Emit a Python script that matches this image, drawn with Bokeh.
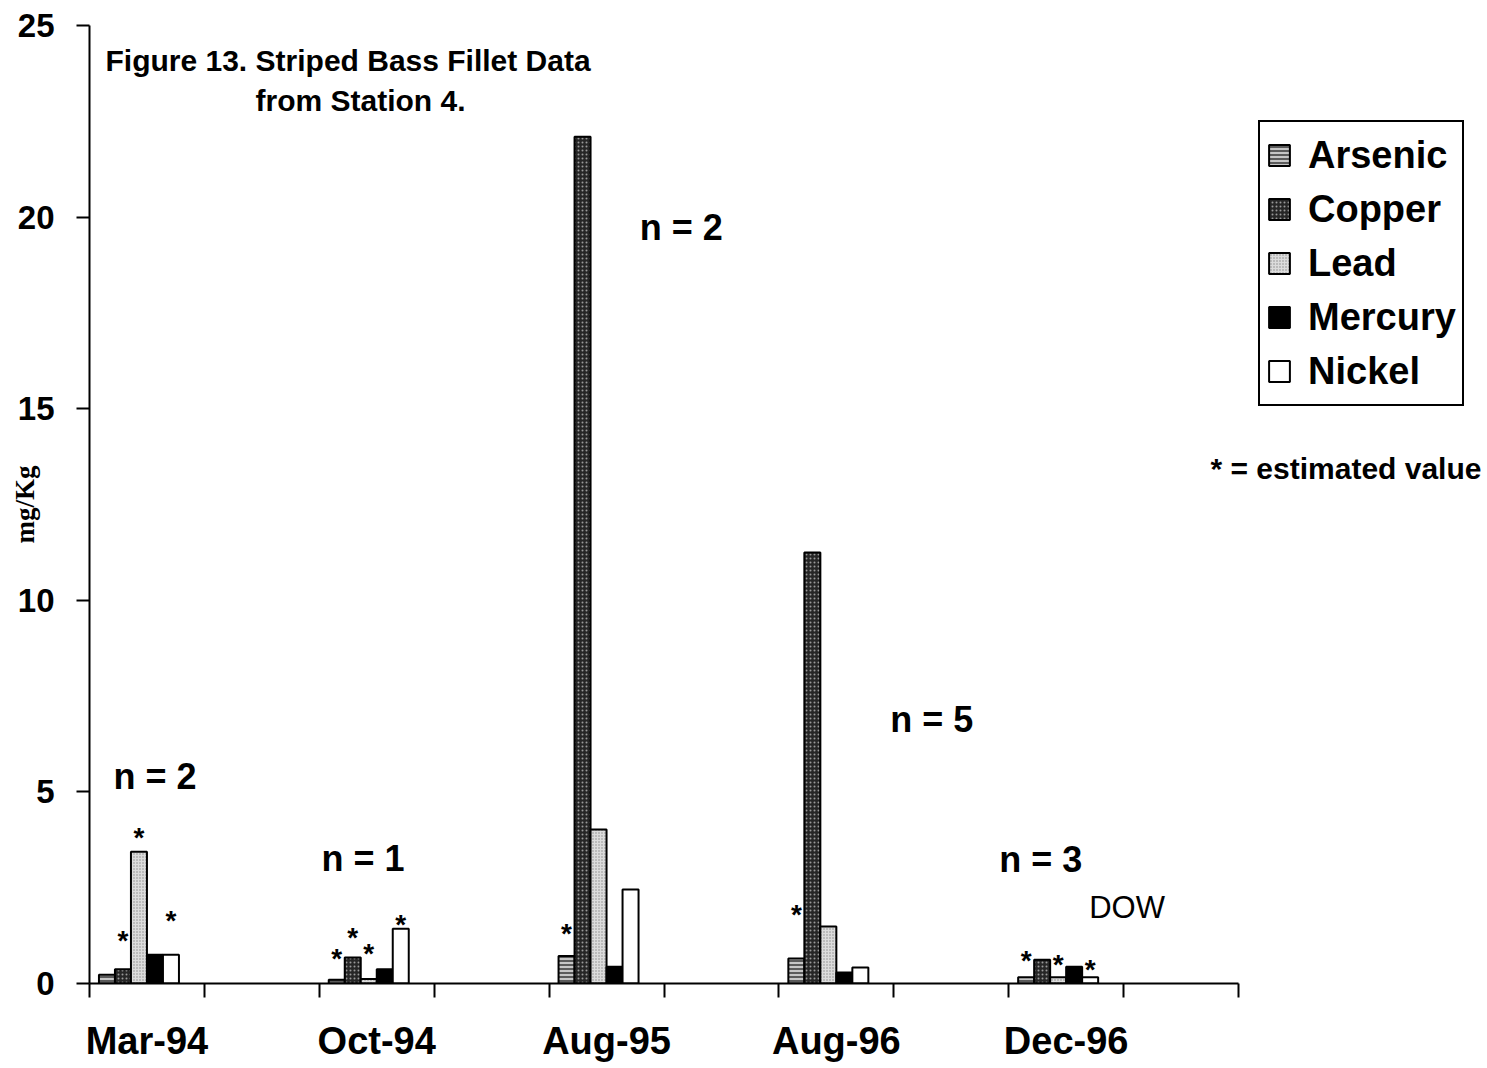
from bokeh.plotting import figure
from bokeh.models import (ColumnDataSource, Range1d, FixedTicker, Legend, LegendItem, Label)
from bokeh.core.properties import value
from bokeh.transform import dodge
from bokeh.embed import file_html
from bokeh.resources import INLINE

# ---------------- data ----------------
dates = ["Mar-94", "Oct-94", "Aug-95", "Aug-96", "Dec-96"]
arsenic = [0.23, 0.10, 0.72, 0.65, 0.16]
copper = [0.37, 0.68, 22.1, 11.25, 0.62]
lead = [3.44, 0.12, 4.02, 1.49, 0.16]
mercury = [0.75, 0.37, 0.44, 0.29, 0.44]
nickel = [0.75, 1.43, 2.45, 0.42, 0.16]
sample_n = [2, 1, 2, 5, 3]
series_names = ["Arsenic", "Copper", "Lead", "Mercury", "Nickel"]
y_ticks = [0, 5, 10, 15, 20, 25]

# estimated values (*): date index, series index, height of the star
est_date = [0, 0, 0, 1, 1, 1, 1, 2, 3, 4, 4, 4]
est_series = [1, 2, 4, 0, 1, 2, 4, 0, 0, 0, 2, 4]
est_y = [1.3, 4.0, 1.83, 0.84, 1.38, 0.97, 1.72, 1.49, 1.98, 0.78, 0.68, 0.55]

# annotation positions for the "n = " labels
n_x = [0.07, 1.88, 4.65, 6.83, 7.78]
n_y = [5.40, 3.26, 19.73, 6.89, 3.24]

# ---------------- styling ----------------
SANS = "Liberation Sans"
fills = ["#5a5a5a", "#262626", "#dcdcdc", "#000000", "#ffffff"]
hatches = ["horizontal_line", "dot", "dot", " ", " "]
hatch_cols = ["#ffffff", "#9a9a9a", "#8a8a8a", "#000000", "#000000"]
hatch_scales = [4, 4, 3, 4, 4]
hatch_weights = [1.3, 1.2, 1.0, 1, 1]

values = [arsenic, copper, lead, mercury, nickel]
n_slots = 10                                 # category slots along the axis
cat_x = [2 * i for i in range(len(dates))]   # every other slot holds data
cat_px = 114.9                               # pixel width of one slot
slot = 16 / cat_px                           # bar width in slot units
frame_w = 1487 - 89

p = figure(width=1487, height=1068, output_backend="svg", toolbar_location=None,
           x_range=Range1d(-0.5, -0.5 + frame_w / cat_px), y_range=Range1d(0, 25),
           min_border_left=89, min_border_right=0, min_border_top=25, min_border_bottom=85)
p.outline_line_color = None
p.grid.grid_line_color = None
p.background_fill_color = "white"

renderers = []
for s, (name, vals) in enumerate(zip(series_names, values)):
    src = ColumnDataSource(dict(x=cat_x, top=vals))
    r = p.vbar(x=dodge("x", (s - 2.5) * slot, range=p.x_range), top="top", bottom=0,
               width=slot, source=src, fill_color=fills[s], line_color="black", line_width=2,
               hatch_pattern=hatches[s], hatch_color=hatch_cols[s], hatch_scale=hatch_scales[s],
               hatch_weight=hatch_weights[s])
    renderers.append(r)

# stars for estimated values
star_src = ColumnDataSource(dict(
    x=[cat_x[d] + (s - 2.5) * slot for d, s in zip(est_date, est_series)],
    y=est_y, t=["*"] * len(est_y)))
p.text(x="x", y="y", text="t", source=star_src, text_align="center", text_baseline="middle",
       y_offset=7, text_font=value(SANS), text_font_style="bold", text_font_size="28px",
       text_color="black")

# n labels
n_src = ColumnDataSource(dict(x=n_x, y=n_y, t=[f"n = {n}" for n in sample_n]))
p.text(x="x", y="y", text="t", source=n_src, text_align="center", text_baseline="middle",
       text_font=value(SANS), text_font_style="bold", text_font_size="36px", text_color="black")

# DOW
p.add_layout(Label(x=8.53, y=1.98, text="DOW", text_align="center", text_baseline="middle",
                   text_font=SANS, text_font_size="31px", text_color="black"))

# title lines (inside plot area)
p.add_layout(Label(x=16, y=923, x_units="screen", y_units="screen",
                   text="Figure 13. Striped Bass Fillet Data", text_baseline="middle",
                   text_font=SANS, text_font_style="bold", text_font_size="30px",
                   text_color="black"))
p.add_layout(Label(x=166, y=883, x_units="screen", y_units="screen",
                   text="from Station 4.", text_baseline="middle",
                   text_font=SANS, text_font_style="bold", text_font_size="30px",
                   text_color="black"))

# estimated note
p.add_layout(Label(x=1121, y=515, x_units="screen", y_units="screen",
                   text="* = estimated value", text_baseline="middle",
                   text_font=SANS, text_font_style="bold", text_font_size="30px",
                   text_color="black"))

# x axis: labels centred on data slots, tick marks at slot boundaries
xa = p.xaxis[0]
xa.bounds = (-0.5, n_slots - 0.5)
xa.ticker = FixedTicker(ticks=cat_x, minor_ticks=[k - 0.5 for k in range(n_slots + 1)])
xa.major_label_overrides = {c: d for c, d in zip(cat_x, dates)}
xa.major_tick_line_color = None
xa.major_tick_out = 14
xa.major_tick_in = 0
xa.minor_tick_out = 14
xa.minor_tick_in = 0
xa.minor_tick_line_color = "black"
xa.minor_tick_line_width = 2
xa.axis_line_width = 2
xa.axis_line_color = "black"
xa.major_label_standoff = 22
xa.major_label_text_font = SANS
xa.major_label_text_font_style = "bold"
xa.major_label_text_font_size = "38px"
xa.major_label_text_color = "black"

ya = p.yaxis[0]
ya.ticker = FixedTicker(ticks=y_ticks, minor_ticks=[])
ya.major_tick_out = 13
ya.major_tick_in = 0
ya.major_tick_line_width = 2
ya.major_tick_line_color = "black"
ya.axis_line_width = 2
ya.axis_line_color = "black"
ya.major_label_standoff = 22
ya.major_label_text_font = SANS
ya.major_label_text_font_style = "bold"
ya.major_label_text_font_size = "33px"
ya.major_label_text_color = "black"
ya.axis_label = "mg/Kg"
ya.axis_label_text_font = "Liberation Serif"
ya.axis_label_text_font_style = "bold"
ya.axis_label_text_font_size = "27px"
ya.axis_label_text_color = "black"
ya.axis_label_standoff = -25

legend = Legend(items=[LegendItem(label=n, renderers=[r]) for n, r in zip(series_names, renderers)],
                location=(1169, 577), orientation="vertical",
                border_line_color="black", border_line_width=2, border_line_alpha=1,
                background_fill_color="white",
                background_fill_alpha=1, padding=6, spacing=0, label_height=54,
                glyph_width=26, glyph_height=26, label_standoff=16,
                label_text_font=SANS, label_text_font_style="bold", label_text_font_size="38px",
                label_text_color="black")
p.add_layout(legend, "center")

open("out.html", "w").write(file_html(p, INLINE))
